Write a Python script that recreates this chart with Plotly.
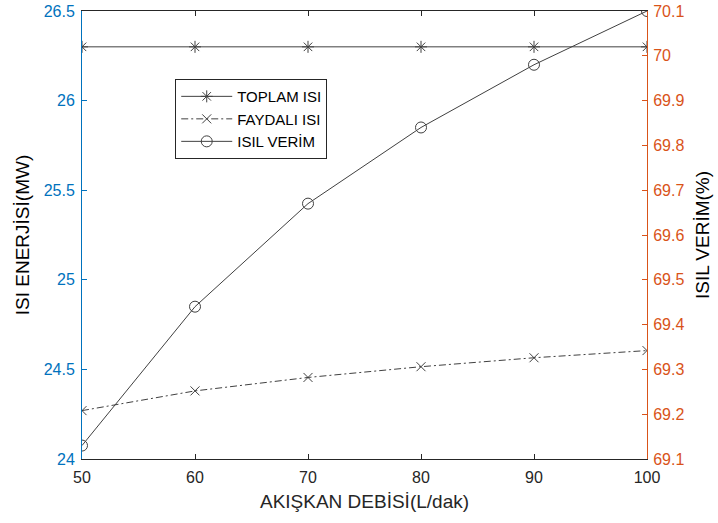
import plotly.graph_objects as go

x_debi = [50, 60, 70, 80, 90, 100]
toplam_isi = [26.3, 26.3, 26.3, 26.3, 26.3, 26.3]
faydali_isi = [24.27, 24.38, 24.455, 24.515, 24.565, 24.605]
isil_verim = [69.13, 69.44, 69.67, 69.84, 69.98, 70.10]

left_ticks = [24, 24.5, 25, 25.5, 26, 26.5]
right_ticks = [69.1, 69.2, 69.3, 69.4, 69.5, 69.6, 69.7, 69.8, 69.9, 70, 70.1]
x_ticks = [50, 60, 70, 80, 90, 100]

BLUE = "#0072BD"
ORANGE = "#D95319"
DARK = "#262626"
LINE = "#404040"
FONT = "Liberation Sans, Arial, sans-serif"

fig = go.Figure()
fig.add_trace(go.Scatter(
    x=x_debi, y=toplam_isi, name="TOPLAM ISI", mode="lines+markers",
    line=dict(color=LINE, width=1),
    marker=dict(symbol="asterisk-open", size=10, color=LINE, line=dict(color=LINE, width=1)),
))
fig.add_trace(go.Scatter(
    x=x_debi, y=faydali_isi, name="FAYDALI ISI", mode="lines+markers",
    line=dict(color=LINE, width=1, dash="7px,3px,2px,3px"),
    marker=dict(symbol="x-thin-open", size=9, color=LINE, line=dict(color=LINE, width=1)),
))
fig.add_trace(go.Scatter(
    x=x_debi, y=isil_verim, name="ISIL VERİM", mode="lines+markers", yaxis="y2",
    line=dict(color=LINE, width=1),
    marker=dict(symbol="circle-open", size=11, color=LINE, line=dict(color=LINE, width=1)),
))

fig.update_layout(
    width=718, height=523,
    margin=dict(l=82, r=71, t=11, b=64),
    paper_bgcolor="white", plot_bgcolor="white",
    font=dict(family=FONT, size=16, color=DARK),
    showlegend=True,
    legend=dict(
        x=0.165, y=0.848, xanchor="left", yanchor="top",
        bgcolor="white", bordercolor=DARK, borderwidth=1,
        font=dict(family=FONT, size=15, color="black"),
        tracegroupgap=0, itemwidth=51,
    ),
    xaxis=dict(
        range=[50, 100], tickvals=x_ticks, ticks="inside", ticklen=5,
        tickcolor=DARK, showline=True, linecolor=DARK, linewidth=1, mirror="ticks",
        showgrid=False, zeroline=False, automargin=False, ticklabelstandoff=4,
        tickfont=dict(size=16, color=DARK),
        title=dict(text="AKIŞKAN DEBİSİ(L/dak)", font=dict(size=19, color=DARK), standoff=9),
    ),
    yaxis=dict(
        range=[24, 26.5], tickvals=left_ticks, ticktext=[f"{v:g}" for v in left_ticks],
        ticks="inside", ticklen=5, tickcolor=BLUE,
        showline=True, linecolor=BLUE, linewidth=1, mirror=False,
        showgrid=False, zeroline=False, automargin=False, ticklabelstandoff=3,
        tickfont=dict(size=16, color=BLUE),
        title=dict(text="ISI ENERJİSİ(MW)", font=dict(size=19, color="black"), standoff=9),
    ),
    yaxis2=dict(
        range=[69.1, 70.1], tickvals=right_ticks, ticktext=[f"{v:g}" for v in right_ticks],
        overlaying="y", side="right",
        ticks="inside", ticklen=5, tickcolor=ORANGE,
        showline=True, linecolor=ORANGE, linewidth=1,
        showgrid=False, zeroline=False, automargin=False, ticklabelstandoff=2,
        tickfont=dict(size=16, color=ORANGE),
        title=dict(text="ISIL VERİM(%)", font=dict(size=19, color="black"), standoff=12),
    ),
)

# remove the browser's default 8px body margin so the figure fills the window
fig.write_html(
    "out.html",
    config={"displayModeBar": False},
    post_script="document.body.style.margin='0px';",
)
